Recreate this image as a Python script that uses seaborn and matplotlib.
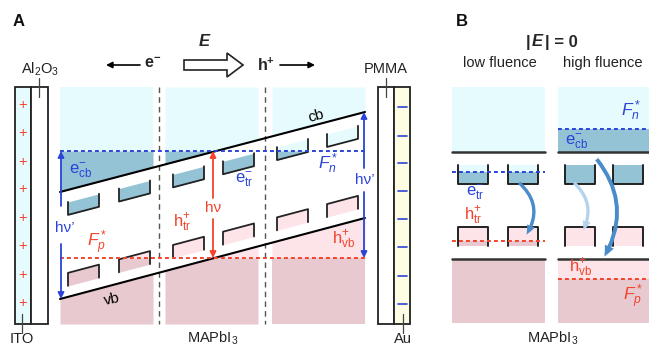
import numpy as np
import pandas as pd
import matplotlib
matplotlib.use("Agg")
import matplotlib.pyplot as plt
import seaborn as sns
from matplotlib.patches import Rectangle, Polygon, FancyArrowPatch

sns.set_theme(style="white")
plt.rcParams['font.family'] = ['Liberation Sans', 'DejaVu Sans']
plt.rcParams['mathtext.fontset'] = 'custom'
plt.rcParams['mathtext.rm'] = 'Liberation Sans'
plt.rcParams['mathtext.it'] = 'Liberation Sans:italic'
plt.rcParams['mathtext.bf'] = 'Liberation Sans:bold'

# ---------------- data (schematic levels, pixel units) ----------------
band_x = [60, 365]
cb_y = [192, 112]
vb_y = [299, 218]
fn_A = 151
fp_A = 258
columns_A = [(60, 153), (165, 258), (272, 365)]
divider_x = [159, 265]
trap_x_A = [68, 119, 173, 223, 277, 327]
trap_w = 31
e_trap_off = [12, 25]      # below cb
h_trap_off = [24, 11]      # above vb
plus_y = [105, 133, 162, 189, 218, 246, 275, 303]
minus_y = [107, 136, 163, 191, 219, 247, 276, 304]

panels_B = {"low": (452, 545), "high": (558, 649)}
cb_B, vb_B = 152, 259
fn_B = {"low": 172, "high": 129}
fp_B = {"low": 241, "high": 279}
trap_x_B = {"low": [458, 508], "high": [565, 613]}
e_trap_B = [165, 184]
h_trap_B = [227, 246]
TOP, BOT = 87, 324

# colors
CYAN = "#e6fbfd"
DBLUE = "#94c3d6"
LPINK = "#fde4e9"
DPINK = "#e8c9cf"
BLUE = "#2a44d8"
RED = "#f2442c"
YEL = "#fdfde4"
EDGE = "#222222"

fig = plt.figure(figsize=(6.49, 3.46), dpi=100)
ax = fig.add_axes([0, 0, 1, 1])
ax.set_xlim(0, 649)
ax.set_ylim(346, 0)
ax.axis("off")


def cb(x):
    return np.interp(x, band_x, cb_y)


def vb(x):
    return np.interp(x, band_x, vb_y)


# ---------------- panel A backgrounds ----------------
for (x0, x1) in columns_A:
    xs = np.linspace(x0, x1, 80)
    c = cb(xs)
    v = vb(xs)
    ax.fill_between(xs, TOP, np.minimum(c, fn_A), color=CYAN, lw=0)
    ax.fill_between(xs, fn_A, c, where=c > fn_A, interpolate=True, color=DBLUE, lw=0)
    ax.fill_between(xs, v, fp_A, where=v < fp_A, interpolate=True, color=LPINK, lw=0)
    ax.fill_between(xs, np.maximum(v, fp_A), BOT, color=DPINK, lw=0)

for dx in divider_x:
    ax.plot([dx, dx], [TOP, BOT], color="#555555", lw=1.0, ls=(0, (4, 3)))

# traps in panel A
for x0 in trap_x_A:
    xs = np.linspace(x0, x0 + trap_w, 40)
    top = cb(xs) + e_trap_off[0]
    bot = cb(xs) + e_trap_off[1]
    ax.fill_between(xs, top, np.minimum(bot, np.maximum(top, fn_A)), color=CYAN, lw=0)
    ax.fill_between(xs, np.maximum(top, fn_A), bot, where=bot > fn_A, interpolate=True, color=DBLUE, lw=0)
    ax.plot([xs[0], xs[0], xs[-1], xs[-1]], [top[0], bot[0], bot[-1], top[-1]], color=EDGE, lw=1.3)
    # hole traps
    htop = vb(xs) - h_trap_off[0]
    hbot = vb(xs) - h_trap_off[1]
    ax.fill_between(xs, htop, np.maximum(htop, np.minimum(hbot, fp_A)), color=LPINK, lw=0)
    ax.fill_between(xs, np.maximum(htop, fp_A), hbot, where=hbot > fp_A, interpolate=True, color=DPINK, lw=0)
    ax.plot([xs[0], xs[0], xs[-1], xs[-1]], [hbot[0], htop[0], htop[-1], hbot[-1]], color=EDGE, lw=1.3)

# band edges via seaborn
bands = pd.DataFrame({"x": band_x * 2, "y": cb_y + vb_y, "band": ["cb", "cb", "vb", "vb"]})
sns.lineplot(data=bands[bands.band == "cb"], x="x", y="y", color="black", lw=1.5, ax=ax, legend=False)
sns.lineplot(data=bands[bands.band == "vb"], x="x", y="y", color="black", lw=1.5, ax=ax, legend=False)
ax.set_xlim(0, 649)
ax.set_ylim(346, 0)
ax.axis("off")

# quasi-Fermi levels
ax.plot([60, 365], [fn_A, fn_A], color=BLUE, lw=1.4, ls=(0, (2, 1.6)))
ax.plot([60, 365], [fp_A, fp_A], color=RED, lw=1.4, ls=(0, (2, 1.6)))


def arrow(x0, y0, x1, y1, color):
    ax.annotate("", xy=(x1, y1), xytext=(x0, y0),
                arrowprops=dict(arrowstyle="-|>", color=color, lw=1.3,
                                mutation_scale=9, shrinkA=0, shrinkB=0))


# h nu' arrows
arrow(61, 206, 61, fn_A, BLUE)
arrow(61, 244, 61, 299, BLUE)
ax.text(65, 228, "hν’", color=BLUE, fontsize=11, ha="center", va="center")
arrow(364, 168, 364, 112, BLUE)
arrow(364, 192, 364, fp_A, BLUE)
ax.text(365, 180, "hν’", color=BLUE, fontsize=11, ha="center", va="center")
# h nu
arrow(213, 198, 213, fn_A, RED)
arrow(213, 219, 213, fp_A, RED)
ax.text(213, 208, "hν", color=RED, fontsize=11, ha="center", va="center")

# electrodes
ax.add_patch(Rectangle((15, TOP), 16, BOT - TOP, facecolor=CYAN, edgecolor=EDGE, lw=1.3))
ax.add_patch(Rectangle((31, TOP), 17, BOT - TOP, facecolor="white", edgecolor=EDGE, lw=1.3))
ax.add_patch(Rectangle((378, TOP), 16, BOT - TOP, facecolor="white", edgecolor=EDGE, lw=1.3))
ax.add_patch(Rectangle((394, TOP), 16, BOT - TOP, facecolor=YEL, edgecolor=EDGE, lw=1.3))
for y in plus_y:
    ax.text(23, y, "+", color=RED, fontsize=10.5, ha="center", va="center")
for y in minus_y:
    ax.plot([398, 407], [y, y], color=BLUE, lw=1.2)
ax.plot([39, 39], [78, 97], color="#444444", lw=0.9)
ax.plot([386, 386], [78, 97], color="#444444", lw=0.9)
ax.plot([22, 22], [314, 333], color="#444444", lw=0.9)
ax.plot([403, 403], [314, 333], color="#444444", lw=0.9)
ax.text(40, 69, r"Al$_2$O$_3$", fontsize=10.5, ha="center", va="center", color="#222222")
ax.text(386, 69, "PMMA", fontsize=10.5, ha="center", va="center", color="#222222")
ax.text(22, 339, "ITO", fontsize=10.5, ha="center", va="center", color="#222222")
ax.text(403, 339, "Au", fontsize=10.5, ha="center", va="center", color="#222222")
ax.text(213, 338, r"MAPbI$_3$", fontsize=10.5, ha="center", va="center", color="#222222")

# labels panel A
ax.text(81, 170, r"e$^{-}_{\rm cb}$", color=BLUE, fontsize=12, ha="center", va="center")
ax.text(244, 179, r"e$^{-}_{\rm tr}$", color=BLUE, fontsize=12, ha="center", va="center")
ax.text(328, 164, r"$F_n^*$", color=BLUE, fontsize=12.5, ha="center", va="center")
ax.text(316, 116, "cb", color="black", fontsize=11, ha="center", va="center", rotation=14.8)
ax.text(112, 299, "vb", color="black", fontsize=11, ha="center", va="center", rotation=12)
ax.text(182, 223, r"h$^{+}_{\rm tr}$", color=RED, fontsize=12, ha="center", va="center")
ax.text(97, 243, r"$F_p^*$", color=RED, fontsize=12.5, ha="center", va="center")
ax.text(344, 240, r"h$^{+}_{\rm vb}$", color=RED, fontsize=12, ha="center", va="center")

# top: field and carrier directions
ax.text(19, 22, "A", fontsize=12, fontweight="bold", ha="center", va="center", color="#111111")
ax.annotate("", xy=(106, 65), xytext=(140, 65),
            arrowprops=dict(arrowstyle="-|>", color="black", lw=1.2, mutation_scale=9, shrinkA=0, shrinkB=0))
ax.text(153, 64, r"$\mathbf{e^{-}}$", fontsize=11.5, ha="center", va="center")
ax.add_patch(Polygon([(184, 60), (227, 60), (227, 53), (243, 65), (227, 77), (227, 70), (184, 70)],
                     closed=True, facecolor="white", edgecolor="#222222", lw=1.2))
ax.text(204, 42, "E", fontsize=12, fontweight="bold", fontstyle="italic", ha="center", va="center")
ax.text(266, 65, r"$\mathbf{h^{+}}$", fontsize=11.5, ha="center", va="center")
ax.annotate("", xy=(315, 65), xytext=(280, 65),
            arrowprops=dict(arrowstyle="-|>", color="black", lw=1.2, mutation_scale=9, shrinkA=0, shrinkB=0))

# ---------------- panel B ----------------
ax.text(462, 22, "B", fontsize=12, fontweight="bold", ha="center", va="center", color="#111111")
ax.text(528, 42, "|", fontsize=12, fontweight="bold", ha="center", va="center")
ax.text(537, 42, "E", fontsize=12, fontweight="bold", fontstyle="italic", ha="center", va="center")
ax.text(545, 42, "| = 0", fontsize=12, fontweight="bold", ha="left", va="center")
ax.text(500, 63, "low fluence", fontsize=10.5, ha="center", va="center", color="#222222")
ax.text(603, 63, "high fluence", fontsize=10.5, ha="center", va="center", color="#222222")

for key, (x0, x1) in panels_B.items():
    fn = fn_B[key]
    fp = fp_B[key]
    ax.fill_between([x0, x1], TOP, min(fn, cb_B), color=CYAN, lw=0)
    if fn < cb_B:
        ax.fill_between([x0, x1], fn, cb_B, color=DBLUE, lw=0)
        ax.plot([x0, x1], [fn, fn], color=BLUE, lw=1.4, ls=(0, (2, 1.6)))
    if fp > vb_B:
        ax.fill_between([x0, x1], vb_B, fp, color=LPINK, lw=0)
        ax.plot([x0, x1], [fp, fp], color=RED, lw=1.4, ls=(0, (2, 1.6)))
    ax.fill_between([x0, x1], max(fp, vb_B), BOT - 1, color=DPINK, lw=0)
    for tx in trap_x_B[key]:
        xs = [tx, tx + 30]
        t, b = e_trap_B
        ax.fill_between(xs, t, min(max(t, fn), b), color=CYAN, lw=0)
        ax.fill_between(xs, max(t, fn), b, color=DBLUE, lw=0)
        ax.plot([tx, tx, tx + 30, tx + 30], [t, b, b, t], color=EDGE, lw=1.4)
        t, b = h_trap_B
        ax.fill_between(xs, t, max(t, min(fp, b)), color=LPINK, lw=0)
        if fp < b:
            ax.fill_between(xs, fp, b, color=DPINK, lw=0)
        ax.plot([tx, tx, tx + 30, tx + 30], [b, t, t, b], color=EDGE, lw=1.4)
    if fn > cb_B:
        ax.plot([x0, x1], [fn, fn], color=BLUE, lw=1.4, ls=(0, (2, 1.6)))
    if fp < vb_B:
        ax.plot([x0, x1], [fp, fp], color=RED, lw=1.4, ls=(0, (2, 1.6)))
    ax.plot([x0, x1], [cb_B, cb_B], color="#333333", lw=1.8)
    ax.plot([x0, x1], [vb_B, vb_B], color="#333333", lw=1.8)

ax.text(475, 192, r"e$^{-}_{\rm tr}$", color=BLUE, fontsize=12, ha="center", va="center")
ax.text(473, 216, r"h$^{+}_{\rm tr}$", color=RED, fontsize=12, ha="center", va="center")
ax.text(577, 141, r"e$^{-}_{\rm cb}$", color=BLUE, fontsize=12, ha="center", va="center")
ax.text(631, 111, r"$F_n^*$", color=BLUE, fontsize=12.5, ha="center", va="center")
ax.text(581, 268, r"h$^{+}_{\rm vb}$", color=RED, fontsize=12, ha="center", va="center")
ax.text(633, 297, r"$F_p^*$", color=RED, fontsize=12.5, ha="center", va="center")
ax.text(553, 338, r"MAPbI$_3$", fontsize=10.5, ha="center", va="center", color="#222222")

# relaxation arrows (bulging to the right)
ax.add_patch(FancyArrowPatch((517, 181), (525, 237), connectionstyle="arc3,rad=-0.45",
                             arrowstyle="simple,head_width=6,head_length=7,tail_width=2.4",
                             color="#4a8cc9", lw=0, zorder=5))
ax.add_patch(FancyArrowPatch((572, 181), (582, 233), connectionstyle="arc3,rad=-0.4",
                             arrowstyle="simple,head_width=6,head_length=7,tail_width=2.4",
                             color="#b5d4ec", lw=0, zorder=5))
ax.add_patch(FancyArrowPatch((595, 157), (603, 259), connectionstyle="arc3,rad=-0.35",
                             arrowstyle="simple,head_width=7,head_length=8,tail_width=2.8",
                             color="#4a8cc9", lw=0, zorder=5))

fig.savefig("out.png", dpi=100)
